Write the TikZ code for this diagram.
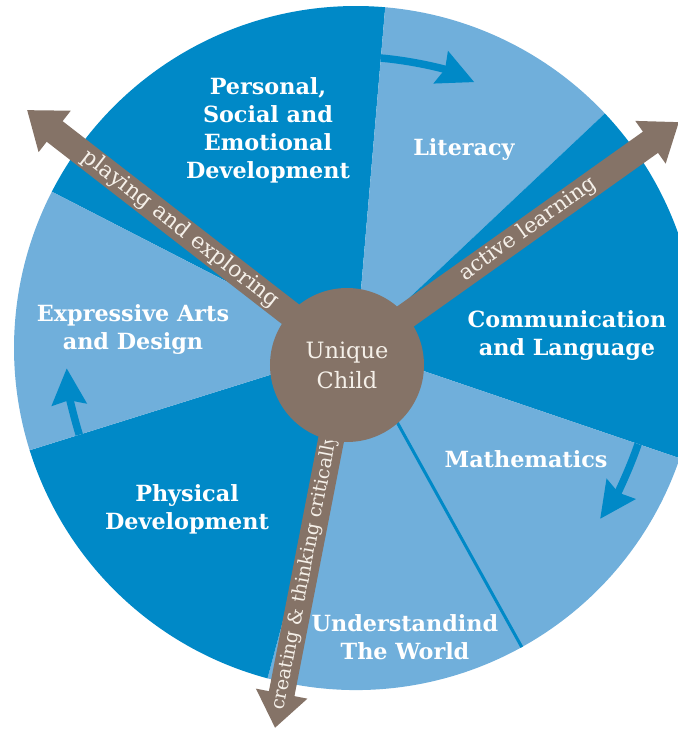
\documentclass[tikz,border=0pt]{standalone}
\usepackage{fontspec}
\setmainfont{DejaVu Serif}
\usetikzlibrary{arrows.meta}
\definecolor{deepblue}{RGB}{0,137,199}
\definecolor{paleblue}{RGB}{112,175,219}
\definecolor{clay}{RGB}{133,115,103}
\definecolor{cream}{RGB}{245,240,233}
\begin{document}
\begin{tikzpicture}[x = 1pt, y = 1pt,
		area/.style = {text = white, font = \bfseries\fontsize{22.3}{28}\selectfont, align = center},
		way/.style = {clay, line width = 26pt, -{Triangle[length = 35pt, width = 50pt]}},
		waytext/.style = {text = cream, sloped},
		turn/.style = {deepblue, line width = 7.5pt, -{Stealth[length = 36pt, width = 34pt, inset = 4pt]}}]
	\clip (-356,-381) rectangle (322,348);
	\fill [deepblue] (0,0) -- (85.1:342) arc [start angle = 85.1, end angle = 152.8, radius = 342] -- cycle;
	\fill [paleblue] (0,0) -- (43.3:342) arc [start angle = 43.3, end angle = 85.1, radius = 342] -- cycle;
	\fill [deepblue] (0,0) -- (-18.8:342) arc [start angle = -18.8, end angle = 43.3, radius = 342] -- cycle;
	\fill [paleblue] (0,0) -- (-105:342) arc [start angle = -105, end angle = -18.8, radius = 342] -- cycle;
	\fill [deepblue] (0,0) -- (-162.6:342) arc [start angle = -162.6, end angle = -105, radius = 342] -- cycle;
	\fill [paleblue] (0,0) -- (152.8:342) arc [start angle = 152.8, end angle = 197.4, radius = 342] -- cycle;
	\draw [deepblue, line width = 3pt] (0,0) -- (-61:342);

	\draw [turn] (85.1:291) arc [start angle = 85.1, end angle = 66, radius = 291];
	\draw [turn] (-18.8:298) arc [start angle = -18.8, end angle = -35, radius = 298];
	\draw [turn] (197.4:290) arc [start angle = 197.4, end angle = 184, radius = 290];

	\coordinate (hub) at (-9,-10);
	\coordinate (playtip) at (-329,238);
	\coordinate (activetip) at (323,226);
	\coordinate (createtip) at (-81,-380);
	\draw [way] (hub) -- node [waytext, pos = 0.52, font = \fontsize{22}{24}\selectfont] {playing and exploring} (playtip);
	\draw [way] (hub) -- node [waytext, pos = 0.545, font = \fontsize{21.4}{24}\selectfont] {active learning} (activetip);
	\draw [way] (hub) -- node [waytext, pos = 0.58, font = \fontsize{19}{24}\selectfont] {creating \& thinking critically} (createtip);

	\node [circle, fill = clay, minimum size = 154pt, inner sep = 0pt, text = cream, font = \fontsize{22.5}{30}\selectfont, align = center] (child) at (-9,-17) {Unique\\Child};

	\node [area] (personal) at (-88,218) {Personal,\\Social and\\Emotional\\Development};
	\node [area] (literacy) at (108,198) {Literacy};
	\node [area] (communication) at (211,12) {Communication\\and Language};
	\node [area] (maths) at (170,-111) {Mathematics};
	\node [area] (world) at (49,-289) {Understandind\\The World};
	\node [area] (physical) at (-169,-161) {Physical\\Development};
	\node [area] (expressive) at (-223,18) {Expressive Arts\\and Design};
\end{tikzpicture}
\end{document}
